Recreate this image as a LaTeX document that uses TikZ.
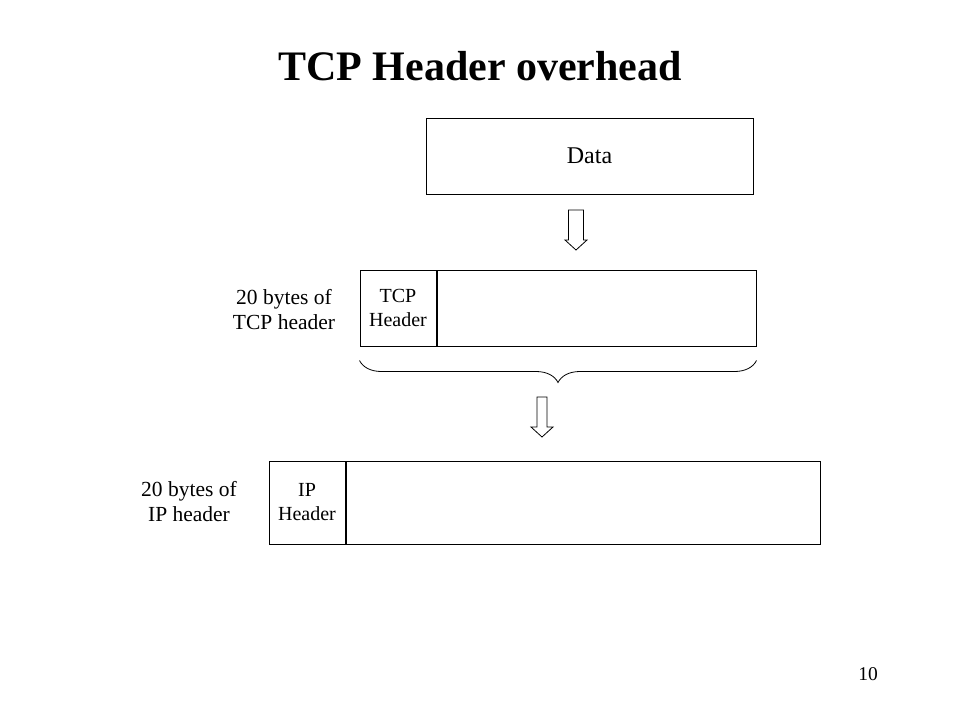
\documentclass[tikz,border=0pt]{standalone}
\usepackage{fontspec}
\setmainfont{Liberation Serif}
\usetikzlibrary{decorations.pathreplacing}

\tikzset{
    field/.style={draw, line width=1pt, inner sep=0pt, align=center, font=\fontsize{20}{24}\selectfont},
    note/.style={align=center, font=\fontsize{21.5}{25}\selectfont},
    pics/blockarrow/.style args={#1/#2}{code={
        \draw[line width=0.8pt] (-#1,0) -- (#1,0) -- (#1,30) -- (#2,30) -- (0,40) -- (-#2,30) -- (-#1,30) -- cycle;
    }}
}

\begin{document}
\begin{tikzpicture}[x=1pt, y=-1pt]
    \useasboundingbox (0,0) rectangle (960,720);

    \node[anchor=base, font=\bfseries\fontsize{42}{48}\selectfont] (title) at (480,80) {TCP Header overhead};

    % user data
    \node[field, font=\fontsize{24}{28}\selectfont, minimum width=327pt, minimum height=76pt] (data) at (589.5,156) {Data};

    \pic at (576,210) {blockarrow=7.5/11};

    % TCP segment
    \node[field, minimum width=76pt, minimum height=76pt] (tcphdr) at (398,308) {TCP\\Header};
    \node[field, minimum width=319pt, minimum height=76pt, anchor=west] (tcpbody) at (tcphdr.east) {};
    \node[note] (tcplabel) at (284,310) {20 bytes of\\TCP header};

    \draw[line width=0.8pt, decorate, decoration={brace, mirror, amplitude=22pt}]
        ([yshift=-14pt]tcphdr.south west) -- ([yshift=-14pt]tcpbody.south east);

    \pic at (542,397) {blockarrow=5/11};

    % IP datagram
    \node[field, minimum width=76pt, minimum height=83pt] (iphdr) at (307,502.5) {IP\\Header};
    \node[field, minimum width=474pt, minimum height=83pt, anchor=west] (ipbody) at (iphdr.east) {};
    \node[note] (iplabel) at (189,502) {20 bytes of\\IP header};

    \node[anchor=base, font=\fontsize{19.5}{22}\selectfont] (pagenum) at (868,680) {10};
\end{tikzpicture}
\end{document}
